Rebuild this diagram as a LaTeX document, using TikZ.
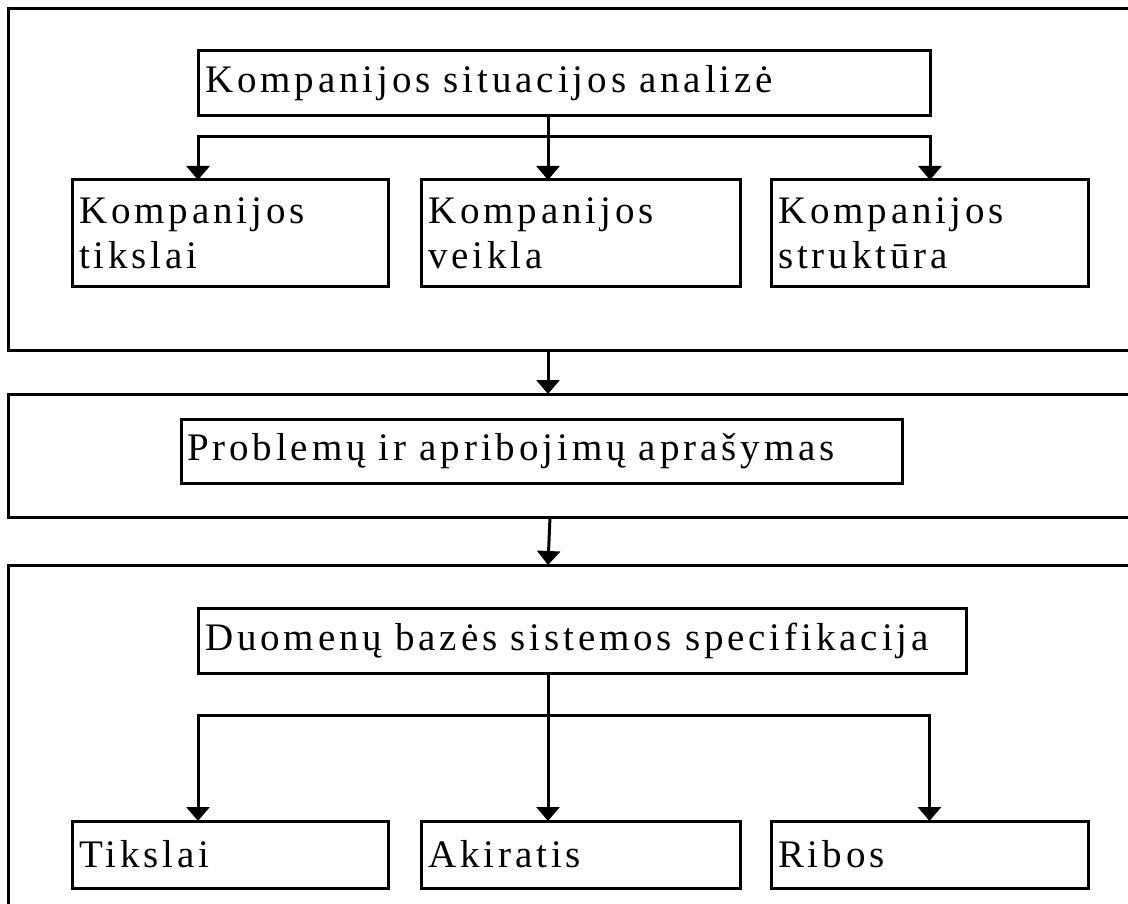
\documentclass[tikz,border=0pt]{standalone}
\usepackage{fontspec}
\setmainfont{Liberation Serif}[LetterSpace=10]
\usetikzlibrary{arrows.meta}
\newcommand{\boxfont}{\fontsize{39pt}{45pt}\selectfont}
\tikzset{
  panel/.style={draw, line width=3pt, rectangle, inner sep=0pt, outer sep=0pt,
    anchor=north west},
  textbox/.style={draw, line width=3pt, rectangle, inner xsep=7pt, inner ysep=0pt,
    outer sep=0pt, anchor=north west, align=left, font=\boxfont},
  link/.style={line width=3pt},
  tip/.style={line width=3pt, -{Triangle[width=23pt,length=14pt]}},
}
\begin{document}
\begin{tikzpicture}[x=1pt,y=-1pt]
\useasboundingbox (0,0) rectangle (1128,904);
\clip (0,0) rectangle (1128,904);

% stage 1: analysis of the company
\node[panel, minimum width=1150pt, minimum height=341pt] (stage1) at (8,9) {};
\node[textbox, text width=718pt, minimum height=65pt] (title1) at (198,51)
  {Kompanijos situacijos analizė};
\node[textbox, text width=302pt, minimum height=107pt] (child1) at (72,180)
  {Kompanijos\\tikslai};
\node[textbox, text width=305pt, minimum height=107pt] (child2) at (421,180)
  {Kompanijos\\veikla};
\node[textbox, text width=303pt, minimum height=107pt] (child3) at (771,180)
  {Kompanijos\\struktūra};

\coordinate (bus1) at (548,137);
\draw[link] (title1.south -| bus1) -- (bus1);
\draw[tip] (bus1) -| (child1.north -| title1.west);
\draw[tip] (bus1) -- (child2.north -| bus1);
\draw[tip] (bus1) -| (child3.north -| title1.east);

% stage 2: problems and constraints
\node[panel, minimum width=1150pt, minimum height=123pt] (stage2) at (8,394) {};
\node[textbox, inner xsep=6pt, text width=709pt, minimum height=64pt] (prob) at (181,419)
  {Problemų ir apribojimų aprašymas};

\draw[tip] (stage1.south -| bus1) -- (stage2.north -| bus1);

% stage 3: database system specification
\node[panel, minimum width=1150pt, minimum height=400pt] (stage3) at (8,565) {};
\node[textbox, text width=754pt, minimum height=65pt] (title3) at (198,608)
  {Duomenų bazės sistemos specifikacija};
\node[textbox, text width=302pt, minimum height=67pt] (leaf1) at (72,821) {Tikslai};
\node[textbox, text width=305pt, minimum height=67pt] (leaf2) at (421,821) {Akiratis};
\node[textbox, text width=303pt, minimum height=67pt] (leaf3) at (771,821) {Ribos};

\coordinate (bus3) at (548,715);
\coordinate (drop2) at (550,517);
\draw[tip] (drop2) -- (stage3.north -| bus3);
\draw[link] (title3.south -| bus3) -- (bus3);
\draw[tip] (bus3) -| (leaf1.north -| title3.west);
\draw[tip] (bus3) -- (leaf2.north -| bus3);
\draw[tip] (bus3) -| (leaf3.north -| child3.north);
\end{tikzpicture}
\end{document}
